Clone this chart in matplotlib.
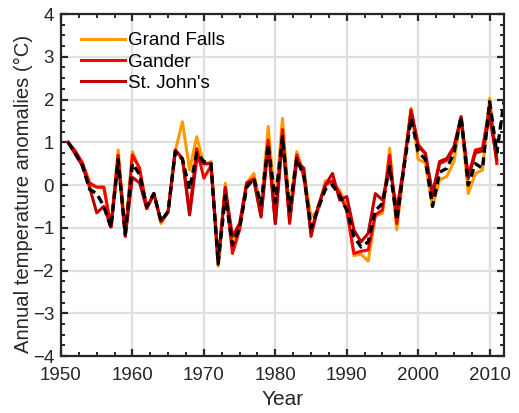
import matplotlib
matplotlib.use("Agg")
import matplotlib.pyplot as plt
from matplotlib.ticker import MultipleLocator

plt.rcParams['font.family'] = ['Liberation Sans', 'DejaVu Sans']

years = list(range(1951, 2012))
years_avg = list(range(1951, 2013))

grand_falls = [1.0, 0.75, 0.5, 0.0, -0.05, -0.05, -0.98, 0.82, -1.15, 0.78,
               0.35, -0.55, -0.2, -0.9, -0.62, 0.8, 1.48, 0.35, 1.13, 0.47,
               0.55, -1.9, 0.04, -1.4, -0.95, 0.05, 0.27, -0.55, 1.37, -0.5,
               1.56, -0.65, 0.78, 0.25, -0.74, -0.6, 0.1, 0.05, -0.12, -0.5,
               -1.65, -1.62, -1.78, -0.72, -0.66, 0.86, -1.05, 0.45, 1.8, 0.6,
               0.52, -0.5, 0.12, 0.2, 0.55, 1.6, -0.2, 0.27, 0.35, 2.03,
               0.55]
gander = [1.0, 0.8, 0.52, 0.05, -0.05, -0.05, -0.98, 0.7, -1.2, 0.7,
          0.4, -0.55, -0.2, -0.85, -0.62, 0.8, 0.62, -0.65, 0.85, 0.16,
          0.45, -1.8, -0.05, -1.6, -1.05, 0.05, 0.15, -0.72, 1.05, -0.9,
          1.3, -0.9, 0.7, 0.2, -1.1, -0.5, 0.0, 0.1, -0.2, -0.6,
          -1.6, -1.55, -1.52, -0.7, -0.58, 0.7, -0.9, 0.45, 1.76, 0.95,
          0.74, -0.25, 0.5, 0.58, 0.85, 1.55, 0.2, 0.82, 0.86, 1.85,
          0.5]
st_johns = [1.0, 0.72, 0.45, -0.05, -0.65, -0.5, -0.98, 0.55, -1.2, 0.18,
            0.05, -0.55, -0.2, -0.85, -0.62, 0.82, 0.62, -0.7, 0.6, 0.5,
            0.5, -1.8, -0.08, -1.2, -0.9, 0.05, 0.1, -0.75, 0.9, -0.9,
            1.1, -0.85, 0.55, 0.39, -1.2, -0.5, 0.0, 0.27, -0.35, -0.27,
            -1.05, -1.33, -1.13, -0.2, -0.35, 0.43, -0.58, 0.45, 1.72, 0.9,
            0.74, -0.2, 0.55, 0.62, 0.9, 1.6, 0.15, 0.75, 0.8, 1.6,
            0.6]
regional = [1.0, 0.75, 0.45, -0.1, -0.2, -0.5, -1.0, 0.6, -1.15, 0.5,
            0.25, -0.5, -0.2, -0.85, -0.62, 0.78, 0.6, -0.1, 0.75, 0.55,
            0.5, -1.85, -0.25, -1.4, -1.0, -0.05, 0.15, -0.45, 0.95, -0.4,
            1.13, -0.6, 0.62, 0.2, -1.0, -0.55, -0.1, 0.0, -0.25, -0.58,
            -1.2, -1.45, -1.33, -0.6, -0.43, 0.43, -0.82, 0.4, 1.56, 0.78,
            0.6, -0.5, 0.3, 0.39, 0.75, 1.6, 0.0, 0.5, 0.39, 1.95,
            0.75, 1.95]

fig = plt.figure(figsize=(5.19, 4.13), dpi=100)
ax = fig.add_axes([0.1175, 0.138, 0.8535, 0.828])

ax.plot(years, grand_falls, color='#FF9900', lw=2.2, label='Grand Falls')
ax.plot(years, gander, color='#FF0000', lw=2.2, label='Gander')
ax.plot(years, st_johns, color='#C00000', lw=2.2, label="St. John's")
ax.plot(years_avg, regional, color='black', lw=2.4, ls=(0, (2.4, 1.4)))

ax.set_xlim(1950, 2012)
ax.set_ylim(-4, 4)
ax.xaxis.set_major_locator(MultipleLocator(10))
ax.xaxis.set_minor_locator(MultipleLocator(2.5))
ax.yaxis.set_major_locator(MultipleLocator(1))
ax.yaxis.set_minor_locator(MultipleLocator(0.25))

ax.grid(True, which='major', color='#DFDFDF', lw=1.6)
ax.set_axisbelow(True)
for s in ax.spines.values():
    s.set_color('#262626')
    s.set_linewidth(1.6)
ax.tick_params(which='both', direction='in', top=True, right=True,
               color='#262626', labelsize=13.5, labelcolor='#262626')
ax.tick_params(which='major', length=5, width=1.6)
ax.tick_params(axis='x', which='major', pad=8)
ax.tick_params(axis='y', which='major', pad=5)
ax.tick_params(which='minor', length=3, width=1.4)

ax.set_xlabel('Year', fontsize=15, color='#262626')
ax.set_ylabel('Annual temperature anomalies (°C)', fontsize=14.6,
              color='#262626')
ax.xaxis.set_label_coords(0.5, -0.1)
ax.yaxis.set_label_coords(-0.064, 0.475)

leg = ax.legend(loc='upper left', frameon=False, fontsize=13.5,
                handlelength=2.35, handletextpad=0.15, labelspacing=0.22,
                borderaxespad=0.2, bbox_to_anchor=(0.02, 0.98))

fig.savefig('out.png', dpi=100)
